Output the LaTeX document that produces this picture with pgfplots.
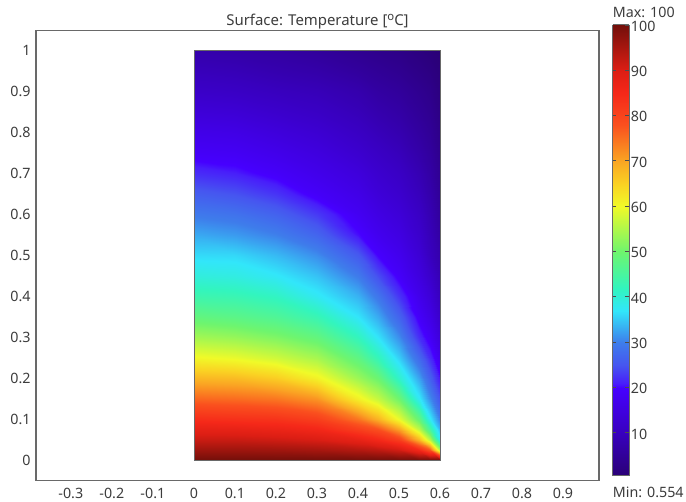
\documentclass[border=0pt]{standalone}
\usepackage{pgfplots}
\usepackage{fontspec}
\setmainfont{Noto Sans}
\pgfplotsset{compat=1.18}
\definecolor{txt}{RGB}{60,60,60}
\definecolor{frame}{RGB}{105,105,105}
\pgfplotsset{colormap={comsol}{
 rgb255(6)=(42,0,118);
 rgb255(100)=(56,0,190);
 rgb255(200)=(70,0,255);
 rgb255(210)=(72,30,250);
 rgb255(250)=(70,85,240);
 rgb255(300)=(62,125,235);
 rgb255(370)=(50,230,250);
 rgb255(420)=(50,245,190);
 rgb255(500)=(110,245,110);
 rgb255(600)=(240,250,40);
 rgb255(650)=(250,210,35);
 rgb255(700)=(250,165,35);
 rgb255(780)=(250,80,30);
 rgb255(850)=(245,40,25);
 rgb255(900)=(220,30,20);
 rgb255(1000)=(115,15,10)}}
\begin{document}
\begin{tikzpicture}[x=1pt,y=1pt]
\useasboundingbox (0,0) rectangle (514.5,375.75);
\begin{axis}[
  at={(27pt,15.2pt)},anchor=south west,
  scale only axis,width=422.25pt,height=338pt,
  view={0}{90},
  xmin=-0.385,xmax=0.988,ymin=-0.05,ymax=1.049,
  xtick={-0.3,-0.2,...,0.95},
  ytick={0,0.1,...,1.05},
  xticklabels={-0.3,-0.2,-0.1,0,0.1,0.2,0.3,0.4,0.5,0.6,0.7,0.8,0.9},
  yticklabels={0,0.1,0.2,0.3,0.4,0.5,0.6,0.7,0.8,0.9,1},
  major tick length=0pt,
  axis line style={draw=frame,line width=0.8pt},
  tick label style={font=\fontsize{10.7}{12}\selectfont,text=txt},
  /pgf/number format/assume math mode=true,
  title={Surface: Temperature [\raisebox{3.5pt}{\fontsize{8.5}{9}\selectfont o}C]},
  title style={font=\fontsize{11.2}{13}\selectfont,text=txt,at={(0.5,1)},anchor=south,yshift=-8.5pt},
  xticklabel style={yshift=-2pt},
  yticklabel style={xshift=-0.5pt},
  colormap name=comsol,
  point meta min=0.554,point meta max=100,
]
\addplot3[surf,shader=interp,mesh/ordering=y varies,point meta=\thisrow{T}] table[x=x,y=y,z=T]{
x y T
0 0 100
0 0.025 96
0 0.05 92
0 0.075 88
0 0.1 84
0 0.15 76
0 0.2 68
0 0.25 60.5
0 0.3 54
0 0.35 48.5
0 0.4 43.5
0 0.45 39.5
0 0.5 36.2
0 0.55 33
0 0.6 29.5
0 0.65 26
0 0.7 22
0 0.75 18.8
0 0.8 16.5
0 0.85 14
0 0.9 11.5
0 0.95 9.5
0 1 7.5

0.1 0 100
0.1 0.025 96
0.1 0.05 92
0.1 0.075 87.8
0.1 0.1 83.5
0.1 0.15 75.5
0.1 0.2 67.5
0.1 0.25 59.5
0.1 0.3 53
0.1 0.35 47.5
0.1 0.4 43
0.1 0.45 39
0.1 0.5 36
0.1 0.55 32
0.1 0.6 28.6
0.1 0.65 24.8
0.1 0.7 21
0.1 0.75 18.3
0.1 0.8 16
0.1 0.85 13.5
0.1 0.9 11
0.1 0.95 9
0.1 1 7

0.2 0 100
0.2 0.025 95.8
0.2 0.05 91.4
0.2 0.075 87
0.2 0.1 83
0.2 0.15 74.5
0.2 0.2 65.5
0.2 0.25 57.5
0.2 0.3 51.2
0.2 0.35 46
0.2 0.4 41.5
0.2 0.45 37.3
0.2 0.5 34
0.2 0.55 30.2
0.2 0.6 26.6
0.2 0.65 22.6
0.2 0.7 19
0.2 0.75 16.8
0.2 0.8 14.5
0.2 0.85 12.2
0.2 0.9 10
0.2 0.95 8
0.2 1 6.3

0.3 0 100
0.3 0.025 95.2
0.3 0.05 90.4
0.3 0.075 85.5
0.3 0.1 81
0.3 0.15 71.6
0.3 0.2 61
0.3 0.25 54.4
0.3 0.3 48.4
0.3 0.35 43
0.3 0.4 37.6
0.3 0.45 34.6
0.3 0.5 31
0.3 0.55 27
0.3 0.6 22.9
0.3 0.65 18.9
0.3 0.7 16.8
0.3 0.75 15
0.3 0.8 13
0.3 0.85 11
0.3 0.9 9.2
0.3 0.95 7.2
0.3 1 5.3

0.4 0 100
0.4 0.025 94
0.4 0.05 88
0.4 0.075 81
0.4 0.1 74.5
0.4 0.15 61.5
0.4 0.2 53.5
0.4 0.25 48
0.4 0.3 42
0.4 0.35 37
0.4 0.4 33.5
0.4 0.45 29.7
0.4 0.5 25.5
0.4 0.55 20.4
0.4 0.6 18
0.4 0.65 16.3
0.4 0.7 14.5
0.4 0.75 12.6
0.4 0.8 10.8
0.4 0.85 9.2
0.4 0.9 7.7
0.4 0.95 5.7
0.4 1 4

0.45 0 100
0.45 0.025 93
0.45 0.05 85.5
0.45 0.075 78
0.45 0.1 68.5
0.45 0.15 56.7
0.45 0.2 49.5
0.45 0.25 42.5
0.45 0.3 36.8
0.45 0.35 33
0.45 0.4 29
0.45 0.45 24.4
0.45 0.5 19.7
0.45 0.55 17.5
0.45 0.6 15.7
0.45 0.65 14
0.45 0.7 12.5
0.45 0.75 11
0.45 0.8 9.3
0.45 0.85 7.8
0.45 0.9 6.3
0.45 0.95 4.8
0.45 1 3.3

0.5 0 100
0.5 0.025 91
0.5 0.05 81.5
0.5 0.075 70
0.5 0.1 59.5
0.5 0.15 50
0.5 0.2 40.8
0.5 0.25 35.5
0.5 0.3 31
0.5 0.35 26.8
0.5 0.4 22.5
0.5 0.45 19
0.5 0.5 17.2
0.5 0.55 15.5
0.5 0.6 13.9
0.5 0.65 12.4
0.5 0.7 11
0.5 0.75 9.5
0.5 0.8 8
0.5 0.85 6.7
0.5 0.9 5.4
0.5 0.95 4
0.5 1 2.7

0.55 0 100
0.55 0.025 85.5
0.55 0.05 68.5
0.55 0.075 56
0.55 0.1 48.8
0.55 0.15 37.6
0.55 0.2 32.5
0.55 0.25 27.5
0.55 0.3 22
0.55 0.35 18.9
0.55 0.4 16.8
0.55 0.45 15
0.55 0.5 13.5
0.55 0.55 12.2
0.55 0.6 11
0.55 0.65 9.7
0.55 0.7 8.5
0.55 0.75 7.2
0.55 0.8 6
0.55 0.85 5
0.55 0.9 4
0.55 0.95 2.8
0.55 1 1.7

0.575 0 100
0.575 0.025 78
0.575 0.05 56
0.575 0.075 44.5
0.575 0.1 37.5
0.575 0.15 31
0.575 0.2 26.3
0.575 0.25 22
0.575 0.3 18.4
0.575 0.35 16
0.575 0.4 14
0.575 0.45 12
0.575 0.5 10
0.575 0.55 9.2
0.575 0.6 8.4
0.575 0.65 7.5
0.575 0.7 6.6
0.575 0.75 5.7
0.575 0.8 4.8
0.575 0.85 4
0.575 0.9 3.2
0.575 0.95 2.1
0.575 1 1.1

0.6 0 100
0.6 0.025 55
0.6 0.05 38
0.6 0.075 33.5
0.6 0.1 29.7
0.6 0.15 24.8
0.6 0.2 20.3
0.6 0.25 17
0.6 0.3 14.3
0.6 0.35 12
0.6 0.4 10
0.6 0.45 8.7
0.6 0.5 7.6
0.6 0.55 6.5
0.6 0.6 5.6
0.6 0.65 4.9
0.6 0.7 4.3
0.6 0.75 3.6
0.6 0.8 3
0.6 0.85 2.4
0.6 0.9 1.8
0.6 0.95 1.2
0.6 1 0.554
};
\addplot3[draw=frame,line width=0.5pt,no marks] coordinates {(0,0,100) (0.6,0,100) (0.6,1,100) (0,1,100) (0,0,100)};
\end{axis}
\begin{axis}[
  at={(459.5pt,19.1pt)},anchor=south west,
  scale only axis,width=12.2pt,height=338pt,
  view={0}{90},
  xmin=0,xmax=1,ymin=0.554,ymax=100,
  xtick=\empty,
  ytick={10,20,...,100},
  yticklabels={10,20,30,40,50,60,70,80,90,100},
  ytick pos=right,yticklabel pos=right,
  tick align=inside,
  major tick length=3pt,
  tick style={draw=black!70,line width=0.5pt},
  axis line style={draw=frame,line width=0.6pt},
  tick label style={font=\fontsize{10.7}{12}\selectfont,text=txt},
  yticklabel style={xshift=-2pt,yshift=-1pt},
  /pgf/number format/assume math mode=true,
  colormap name=comsol,
  point meta min=0.554,point meta max=100,
  clip=false,
]
\addplot3[surf,shader=interp,mesh/ordering=y varies,point meta=\thisrow{T}] table[x=x,y=y,z=T]{
x y T
0 0.554 0.554
0 100 100

1 0.554 0.554
1 100 100
};
\addplot3[black!70,line width=0.5pt,no marks] coordinates {(0,10,100) (0.2,10,100)};
\addplot3[black!70,line width=0.5pt,no marks] coordinates {(0,20,100) (0.2,20,100)};
\addplot3[black!70,line width=0.5pt,no marks] coordinates {(0,30,100) (0.2,30,100)};
\addplot3[black!70,line width=0.5pt,no marks] coordinates {(0,40,100) (0.2,40,100)};
\addplot3[black!70,line width=0.5pt,no marks] coordinates {(0,50,100) (0.2,50,100)};
\addplot3[black!70,line width=0.5pt,no marks] coordinates {(0,60,100) (0.2,60,100)};
\addplot3[black!70,line width=0.5pt,no marks] coordinates {(0,70,100) (0.2,70,100)};
\addplot3[black!70,line width=0.5pt,no marks] coordinates {(0,80,100) (0.2,80,100)};
\addplot3[black!70,line width=0.5pt,no marks] coordinates {(0,90,100) (0.2,90,100)};
\node[anchor=west,font=\fontsize{10.7}{12}\selectfont,text=txt,inner sep=0pt] at (rel axis cs:0,1.027) {Max: 100};
\node[anchor=west,font=\fontsize{10.7}{12}\selectfont,text=txt,inner sep=0pt] at (rel axis cs:0,-0.038) {Min: 0.554};
\end{axis}
\end{tikzpicture}
\end{document}
